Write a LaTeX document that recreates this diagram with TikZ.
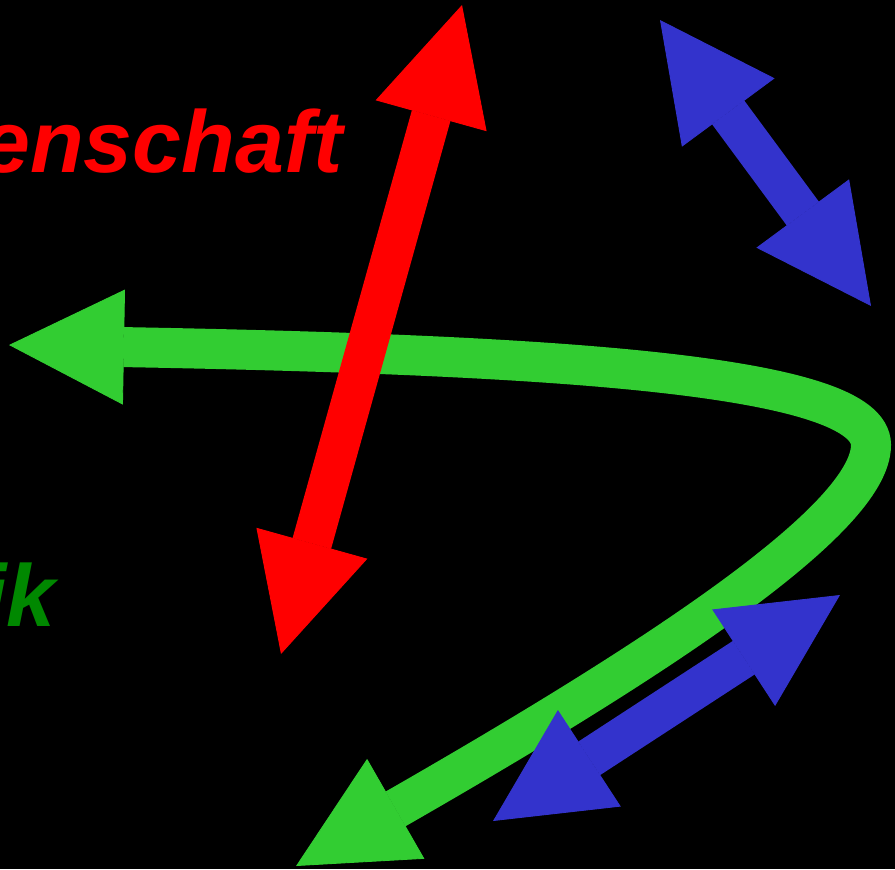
\documentclass[tikz,border=0pt]{standalone}
\usepackage{fontspec}
\setmainfont{Liberation Sans}
\usetikzlibrary{arrows.meta}

\definecolor{rotpfeil}{RGB}{255,0,0}
\definecolor{blaupfeil}{RGB}{51,51,204}
\definecolor{gruenpfeil}{RGB}{50,205,50}
\definecolor{gruentext}{RGB}{0,136,0}

\begin{document}
\begin{tikzpicture}[
    x=0.02cm, y=-0.02cm,
    kopf/.tip={Triangle[length=2.3cm, width=2.3cm, line width=0.5pt]},
    dick/.style={line width=0.8cm, kopf-kopf},
    wort/.style={font=\fontsize{50pt}{56pt}\selectfont\bfseries\itshape, inner sep=0pt, anchor=base east}
]
\fill[black] (0,0) rectangle (895,869);
\useasboundingbox (0,0) rectangle (895,869);

\node[wort, text=rotpfeil] (wiss) at (343,172) {enschaft};
\node[wort, text=gruentext] (tech) at (56,626) {ik};

\coordinate (rotA) at (462,5);
\coordinate (rotB) at (281,654);
\coordinate (blauA) at (660,20);
\coordinate (blauB) at (871,306);
\coordinate (blauC) at (840,595);
\coordinate (blauD) at (493,821);
\coordinate (gruenA) at (9,345);
\coordinate (gruenB) at (296,866);

% Bogen
\draw[dick, gruenpfeil] (gruenA) .. controls (560,355) and (871,375) .. (871,445)
    .. controls (871,520) and (650,663) .. (gruenB);

\draw[dick, rotpfeil] (rotA) -- (rotB);
\draw[dick, blaupfeil] (blauA) -- (blauB);
\draw[dick, blaupfeil] (blauC) -- (blauD);
\end{tikzpicture}
\end{document}
